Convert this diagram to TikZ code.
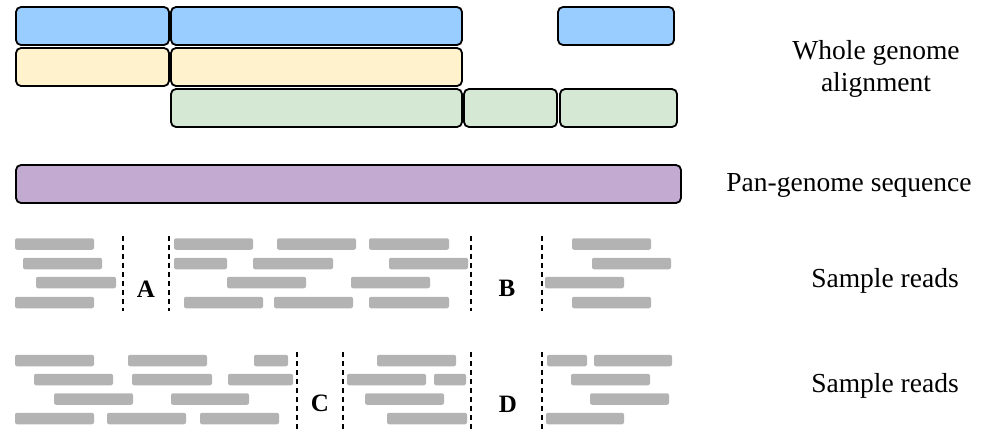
\documentclass[tikz,border=0pt]{standalone}
\usepackage{fontspec}
\setmainfont{Liberation Serif}
\definecolor{cblue}{HTML}{99CCFF}
\definecolor{cyellow}{HTML}{FFF2CC}
\definecolor{cgreen}{HTML}{D5E8D4}
\definecolor{cpurple}{HTML}{C3AAD0}
\definecolor{cread}{HTML}{B3B3B3}
\tikzset{
  blk/.style={draw=black, line width=1.8pt, rounded corners=5pt, inner sep=0pt, outer sep=0pt},
  readbar/.style={fill=cread, draw=none, rounded corners=2pt, minimum height=11.5pt, inner sep=0pt, outer sep=0pt},
  sep/.style={line width=1.6pt, dash pattern=on 5pt off 4pt},
  lbl/.style={font=\fontsize{27.5}{32}\selectfont, align=center, inner sep=0pt},
  letter/.style={font=\fontsize{25}{28}\selectfont\bfseries, inner sep=0pt}
}
\newcommand\gbox[6]{%
  \pgfmathsetmacro\bw{#3-#2}\pgfmathsetmacro\bh{#5-#4}%
  \pgfmathsetmacro\bx{(#2+#3)/2}\pgfmathsetmacro\by{(#4+#5)/2}%
  \node[blk, fill=#6, minimum width=\bw pt, minimum height=\bh pt] (#1) at (\bx,\by) {};}
\newcommand\rdd[4]{%
  \pgfmathsetmacro\rw{#3-#2}\pgfmathsetmacro\rx{(#2+#3)/2}%
  \node[readbar, minimum width=\rw pt] (#1) at (\rx,#4) {};}
\begin{document}
\begin{tikzpicture}[x=1pt,y=-1pt]
\useasboundingbox (0,0) rectangle (984,429);
% whole genome alignment blocks
\gbox{b1}{16}{169}{7}{45}{cblue}
\gbox{b2}{171}{462}{7}{45}{cblue}
\gbox{b3}{558}{674}{7}{45}{cblue}
\gbox{y1}{16}{169}{48}{86}{cyellow}
\gbox{y2}{171}{462}{48}{86}{cyellow}
\gbox{g1}{171}{462}{89}{127}{cgreen}
\gbox{g2}{464}{557}{89}{127}{cgreen}
\gbox{g3}{560}{677}{89}{127}{cgreen}
% pan-genome
\gbox{pan}{16}{681}{165}{203}{cpurple}
% labels
\node[lbl] (wga) at (876,69) {Whole genome\\alignment};
\node[lbl] (pgs) at (849,185) {Pan-genome sequence};
\node[lbl] (sr1) at (885,281) {Sample reads};
\node[lbl] (sr2) at (885,386) {Sample reads};
% sample reads, first set
\rdd{ra1}{15}{94}{244}\rdd{ra2}{174}{253}{244}\rdd{ra3}{277}{356}{244}\rdd{ra4}{369}{449}{244}\rdd{ra5}{572}{651}{244}
\rdd{rb1}{23}{102}{263.5}\rdd{rb2}{174}{227}{263.5}\rdd{rb3}{253}{333}{263.5}\rdd{rb4}{389}{468}{263.5}\rdd{rb5}{592}{671}{263.5}
\rdd{rc1}{36}{116}{282.5}\rdd{rc2}{227}{306}{282.5}\rdd{rc3}{351}{430}{282.5}\rdd{rc4}{545}{624}{282.5}
\rdd{rd1}{15}{94}{302.5}\rdd{rd2}{184}{263}{302.5}\rdd{rd3}{274}{353}{302.5}\rdd{rd4}{369}{449}{302.5}\rdd{rd5}{572}{651}{302.5}
\coordinate (s1t) at (123,236); \coordinate (s1b) at (123,311);
\coordinate (s2t) at (169,236); \coordinate (s2b) at (169,311);
\coordinate (s3t) at (471,236); \coordinate (s3b) at (471,311);
\coordinate (s4t) at (542,236); \coordinate (s4b) at (542,311);
\draw[sep] (s1t) -- (s1b); \draw[sep] (s2t) -- (s2b);
\draw[sep] (s3t) -- (s3b); \draw[sep] (s4t) -- (s4b);
\node[letter] (A) at (146,289) {A};
\node[letter] (B) at (507,288) {B};
% sample reads, second set
\rdd{qa1}{15}{94}{360.5}\rdd{qa2}{128}{207}{360.5}\rdd{qa3}{254}{288}{360.5}\rdd{qa4}{377}{456}{360.5}\rdd{qa5}{547}{587}{360.5}\rdd{qa6}{594}{672}{360.5}
\rdd{qb1}{34}{113}{379.5}\rdd{qb2}{132}{212}{379.5}\rdd{qb3}{228}{293}{379.5}\rdd{qb4}{347}{426}{379.5}\rdd{qb5}{434}{466}{379.5}\rdd{qb6}{571}{650}{379.5}
\rdd{qc1}{54}{133}{399}\rdd{qc2}{171}{249}{399}\rdd{qc3}{365}{444}{399}\rdd{qc4}{590}{669}{399}
\rdd{qd1}{15}{94}{418.5}\rdd{qd2}{107}{186}{418.5}\rdd{qd3}{200}{279}{418.5}\rdd{qd4}{387}{467}{418.5}\rdd{qd5}{546}{624}{418.5}
\coordinate (t1t) at (297,352); \coordinate (t1b) at (297,429);
\coordinate (t2t) at (343,352); \coordinate (t2b) at (343,429);
\coordinate (t3t) at (471,352); \coordinate (t3b) at (471,429);
\coordinate (t4t) at (542,352); \coordinate (t4b) at (542,429);
\draw[sep] (t1t) -- (t1b); \draw[sep] (t2t) -- (t2b);
\draw[sep] (t3t) -- (t3b); \draw[sep] (t4t) -- (t4b);
\node[letter] (C) at (320,403) {C};
\node[letter] (D) at (508,404) {D};
\end{tikzpicture}
\end{document}
